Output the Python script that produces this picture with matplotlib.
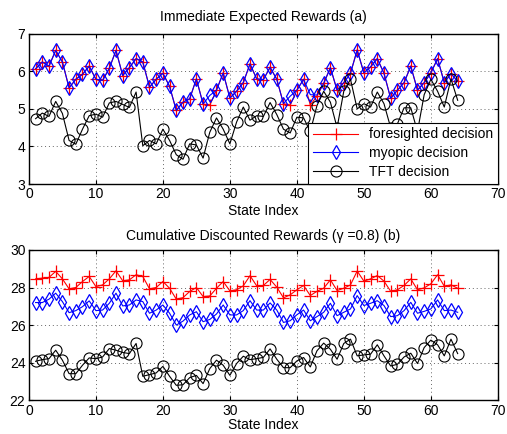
import numpy as np
import matplotlib
matplotlib.use("Agg")
import matplotlib.pyplot as plt

plt.rcParams["font.family"] = ["Liberation Sans", "DejaVu Sans"]
plt.rcParams["font.size"] = 10

# state index 1..64
states = np.arange(1, 65)

# (a) immediate expected rewards
myopic_imm = [6.07, 6.25, 6.14, 6.56, 6.25, 5.56, 5.79, 5.92, 6.14, 5.79,
              5.76, 6.08, 6.56, 5.89, 6.10, 6.34, 6.25, 5.58, 5.79, 5.95,
              5.60, 4.96, 5.18, 5.27, 5.80, 5.13, 5.36, 5.50, 5.96, 5.29,
              5.47, 5.70, 6.20, 5.80, 5.78, 6.11, 5.79, 5.14, 5.34, 5.50,
              5.79, 5.38, 5.37, 5.68, 6.10, 5.50, 5.70, 5.95, 6.57, 5.96,
              6.12, 6.34, 5.95, 5.28, 5.50, 5.70, 6.14, 5.50, 5.70, 5.96,
              6.34, 5.70, 5.94, 5.74]
foresighted_imm = list(myopic_imm)
foresighted_imm[26] = 5.10
foresighted_imm[38] = 5.10
foresighted_imm[41] = 5.10
foresighted_imm[42] = 5.34
tft_imm = [4.74, 4.89, 4.80, 5.20, 4.88, 4.16, 4.06, 4.46, 4.82, 4.86,
           4.78, 5.16, 5.20, 5.12, 5.04, 5.45, 4.02, 4.16, 4.07, 4.46,
           4.16, 3.78, 3.66, 4.07, 4.04, 3.69, 4.38, 4.76, 4.46, 4.07,
           4.65, 5.05, 4.70, 4.82, 4.80, 5.17, 4.85, 4.46, 4.36, 4.78,
           4.76, 4.40, 5.09, 5.47, 5.18, 4.50, 5.47, 5.79, 5.00, 5.14,
           5.05, 5.45, 5.14, 4.50, 4.60, 5.03, 5.03, 4.40, 5.38, 5.79,
           5.47, 5.05, 5.80, 5.23]

# (b) cumulative discounted rewards
foresighted_cum = [28.46, 28.50, 28.54, 28.86, 28.46, 27.93, 28.00, 28.32, 28.59, 28.05,
                   28.14, 28.46, 28.89, 28.36, 28.41, 28.68, 28.59, 27.93, 28.00, 28.32,
                   27.96, 27.38, 27.46, 27.79, 28.00, 27.52, 27.55, 27.96, 28.32, 27.82,
                   27.88, 28.09, 28.63, 28.09, 28.11, 28.43, 28.02, 27.45, 27.61, 27.88,
                   28.11, 27.57, 27.80, 27.96, 28.41, 27.84, 27.96, 28.14, 28.88, 28.34,
                   28.46, 28.64, 28.34, 27.80, 27.88, 28.11, 28.46, 27.88, 27.98, 28.20,
                   28.68, 28.07, 28.14, 27.96]
myopic_cum = [27.20, 27.20, 27.38, 27.70, 27.25, 26.66, 26.77, 26.98, 27.29, 26.77,
              26.80, 27.16, 27.70, 27.02, 27.07, 27.34, 27.25, 26.63, 26.80, 27.07,
              26.63, 26.00, 26.21, 26.54, 26.71, 26.18, 26.30, 26.59, 27.07, 26.54,
              26.54, 26.77, 27.30, 26.80, 26.80, 27.18, 26.80, 26.14, 26.23, 26.55,
              26.80, 26.23, 26.45, 26.68, 27.16, 26.50, 26.68, 26.86, 27.57, 27.04,
              27.16, 27.30, 27.04, 26.45, 26.50, 26.77, 27.21, 26.63, 26.73, 26.86,
              27.34, 26.77, 26.80, 26.68]
tft_cum = [24.07, 24.16, 24.21, 24.66, 24.13, 23.41, 23.41, 23.86, 24.25, 24.21,
           24.30, 24.75, 24.66, 24.54, 24.48, 25.02, 23.27, 23.36, 23.45, 23.80,
           23.27, 22.79, 22.82, 23.20, 23.32, 22.88, 23.68, 24.13, 23.86, 23.32,
           23.95, 24.34, 24.16, 24.21, 24.28, 24.73, 24.18, 23.73, 23.73, 24.09,
           24.27, 23.77, 24.63, 25.04, 24.71, 24.18, 25.02, 25.25, 24.36, 24.41,
           24.45, 24.95, 24.36, 23.82, 23.91, 24.30, 24.50, 23.95, 24.80, 25.20,
           24.95, 24.36, 25.25, 24.48]

fig = plt.figure(figsize=(5.07, 4.34), dpi=100)
ax1 = fig.add_axes([0.057, 0.576, 0.925, 0.346])
ax2 = fig.add_axes([0.057, 0.078, 0.925, 0.346])


def draw(ax, fs, my, tft, labelpad):
    ax.plot(states, fs, color="red", marker="+", markersize=8, lw=0.8,
            mew=0.9, label="foresighted decision")
    ax.plot(states, my, color="blue", marker="d", markersize=7.5, lw=0.8,
            mfc="none", mew=0.9, label="myopic decision")
    ax.plot(states, tft, color="black", marker="o", markersize=8, lw=0.8,
            mfc="none", mew=0.8, label="TFT decision")
    ax.set_xlim(0, 70)
    ax.set_xticks(np.arange(0, 71, 10))
    ax.grid(True, linestyle=(0, (1, 3)), color="black", lw=0.7, alpha=0.6)
    ax.tick_params(direction="in", top=True, right=True, length=3, pad=2.5)
    ax.set_xlabel("State Index", labelpad=labelpad)
    for s in ax.spines.values():
        s.set_linewidth(1.0)


draw(ax1, foresighted_imm, myopic_imm, tft_imm, 2)
ax1.set_ylim(3, 7)
ax1.set_yticks([3, 4, 5, 6, 7])
ax1.set_title("Immediate Expected Rewards (a)", fontsize=10, pad=9)
leg = ax1.legend(loc="lower right", borderaxespad=0, fancybox=False,
                 edgecolor="black", framealpha=1, handlelength=3.2,
                 fontsize=10, labelspacing=0.35, borderpad=0.35)
leg.get_frame().set_linewidth(0.8)

draw(ax2, foresighted_cum, myopic_cum, tft_cum, 0.5)
ax2.set_ylim(22, 30)
ax2.set_yticks([22, 24, 26, 28, 30])
ax2.set_title("Cumulative Discounted Rewards (\u03b3 =0.8) (b)", fontsize=10, pad=7)

fig.savefig("out.png", dpi=100)
